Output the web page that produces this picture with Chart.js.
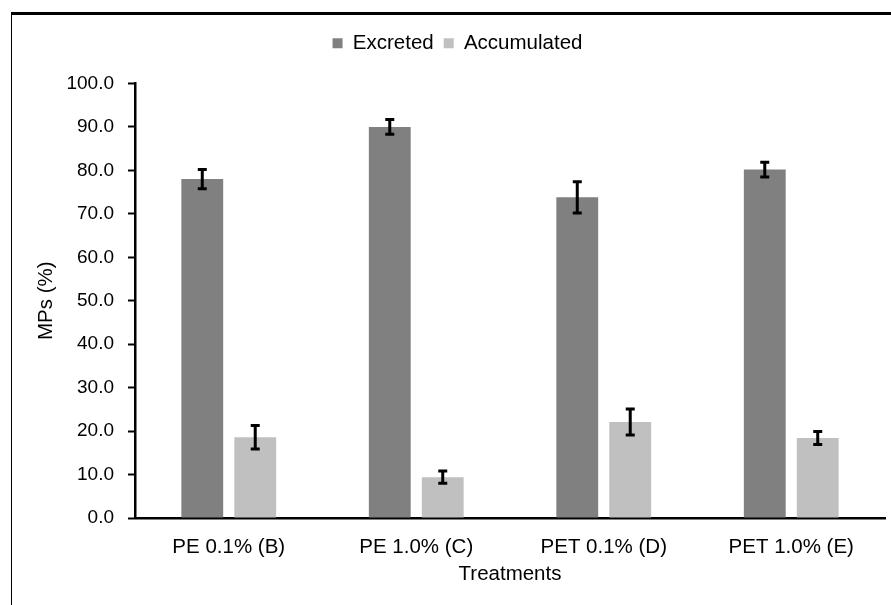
<!DOCTYPE html>
<html>
<head>
<meta charset="utf-8">
<script src="https://cdn.jsdelivr.net/npm/chart.js@4.4.1/dist/chart.umd.min.js"></script>
<style>
  html, body { margin: 0; padding: 0; background: #fff; }
  #wrap { position: relative; width: 891px; height: 605px; overflow: hidden; }
  #frame { position: absolute; left: 11px; top: 12px; width: 920px; height: 700px;
           border-top: 3px solid #000; border-left: 1.5px solid #000; }
  canvas { position: absolute; left: 0; top: 0; }
</style>
</head>
<body>
<div id="wrap">
  <div id="frame"></div>
  <canvas id="chart" width="891" height="605"></canvas>
</div>
<script>
// Treatments and mean percentages of microplastics (with standard errors)
const treatments = ['PE 0.1% (B)', 'PE 1.0% (C)', 'PET 0.1% (D)', 'PET 1.0% (E)'];
const excreted = [78.0, 90.0, 73.8, 80.2];
const excretedErr = [2.2, 1.7, 3.6, 1.7];
const accumulated = [18.6, 9.4, 22.1, 18.4];
const accumulatedErr = [2.7, 1.4, 3.0, 1.5];
const yMin = 0, yMax = 100, yStep = 10;

const FONT = "'Liberation Sans', Arial, sans-serif";
const TEXT = 20.5;
Chart.defaults.font.family = FONT;
Chart.defaults.font.size = TEXT;
Chart.defaults.color = '#000';

// Draws vertical error bars with caps on every bar
const errorBars = {
  id: 'errorBars',
  afterDatasetsDraw(chart) {
    const ctx = chart.ctx;
    const y = chart.scales.y;
    chart.data.datasets.forEach((ds, i) => {
      const meta = chart.getDatasetMeta(i);
      meta.data.forEach((bar, j) => {
        const v = ds.data[j], e = ds.errors[j];
        const top = y.getPixelForValue(v + e);
        const bot = y.getPixelForValue(v - e);
        ctx.save();
        ctx.strokeStyle = '#000';
        ctx.lineWidth = 3;
        ctx.beginPath();
        ctx.moveTo(bar.x, top); ctx.lineTo(bar.x, bot);
        ctx.moveTo(bar.x - 4.5, top); ctx.lineTo(bar.x + 4.5, top);
        ctx.moveTo(bar.x - 4.5, bot); ctx.lineTo(bar.x + 4.5, bot);
        ctx.stroke();
        ctx.restore();
      });
    });
  }
};

// Leaves extra room between the legend row and the plot area
const legendSpacer = {
  id: 'legendSpacer',
  beforeLayout(chart) {
    const lg = chart.legend;
    if (lg && !lg._spaced) {
      const fit = lg.fit.bind(lg);
      lg.fit = function () { fit(); this.height += 20; };
      lg._spaced = true;
    }
  }
};

new Chart(document.getElementById('chart'), {
  type: 'bar',
  data: {
    labels: treatments,
    datasets: [
      { label: 'Excreted', data: excreted, errors: excretedErr,
        backgroundColor: '#808080', borderWidth: 0,
        categoryPercentage: 0.565, barPercentage: 0.79 },
      { label: 'Accumulated', data: accumulated, errors: accumulatedErr,
        backgroundColor: '#c0c0c0', borderWidth: 0,
        categoryPercentage: 0.565, barPercentage: 0.79 }
    ]
  },
  options: {
    responsive: false,
    animation: false,
    devicePixelRatio: 1,
    layout: { padding: { left: 30, right: 6, top: 23, bottom: 0 } },
    plugins: {
      legend: {
        position: 'top',
        labels: { boxWidth: 10, boxHeight: 10, padding: 10, font: { size: TEXT } }
      },
      tooltip: { enabled: false }
    },
    scales: {
      x: {
        grid: { display: false, drawTicks: false },
        border: { display: true, color: '#000', width: 2.5 },
        ticks: { padding: 17, font: { size: TEXT } },
        title: { display: true, text: 'Treatments', font: { size: TEXT }, padding: { top: 0, bottom: 18 } },
        afterFit(s) { s.height = 87; }
      },
      y: {
        min: yMin, max: yMax,
        ticks: { stepSize: yStep, padding: 14, font: { size: 19 },
                 callback: v => Number(v).toFixed(1) },
        grid: { drawOnChartArea: false, drawTicks: true, tickLength: 7, tickColor: '#000', tickWidth: 2 },
        border: { display: true, color: '#000', width: 2.5 },
        title: { display: true, text: 'MPs (%)', font: { size: TEXT }, padding: { top: 4, bottom: 0 } },
        afterFit(s) { s.width = 105; }
      }
    }
  },
  plugins: [errorBars, legendSpacer]
});
</script>
</body>
</html>
